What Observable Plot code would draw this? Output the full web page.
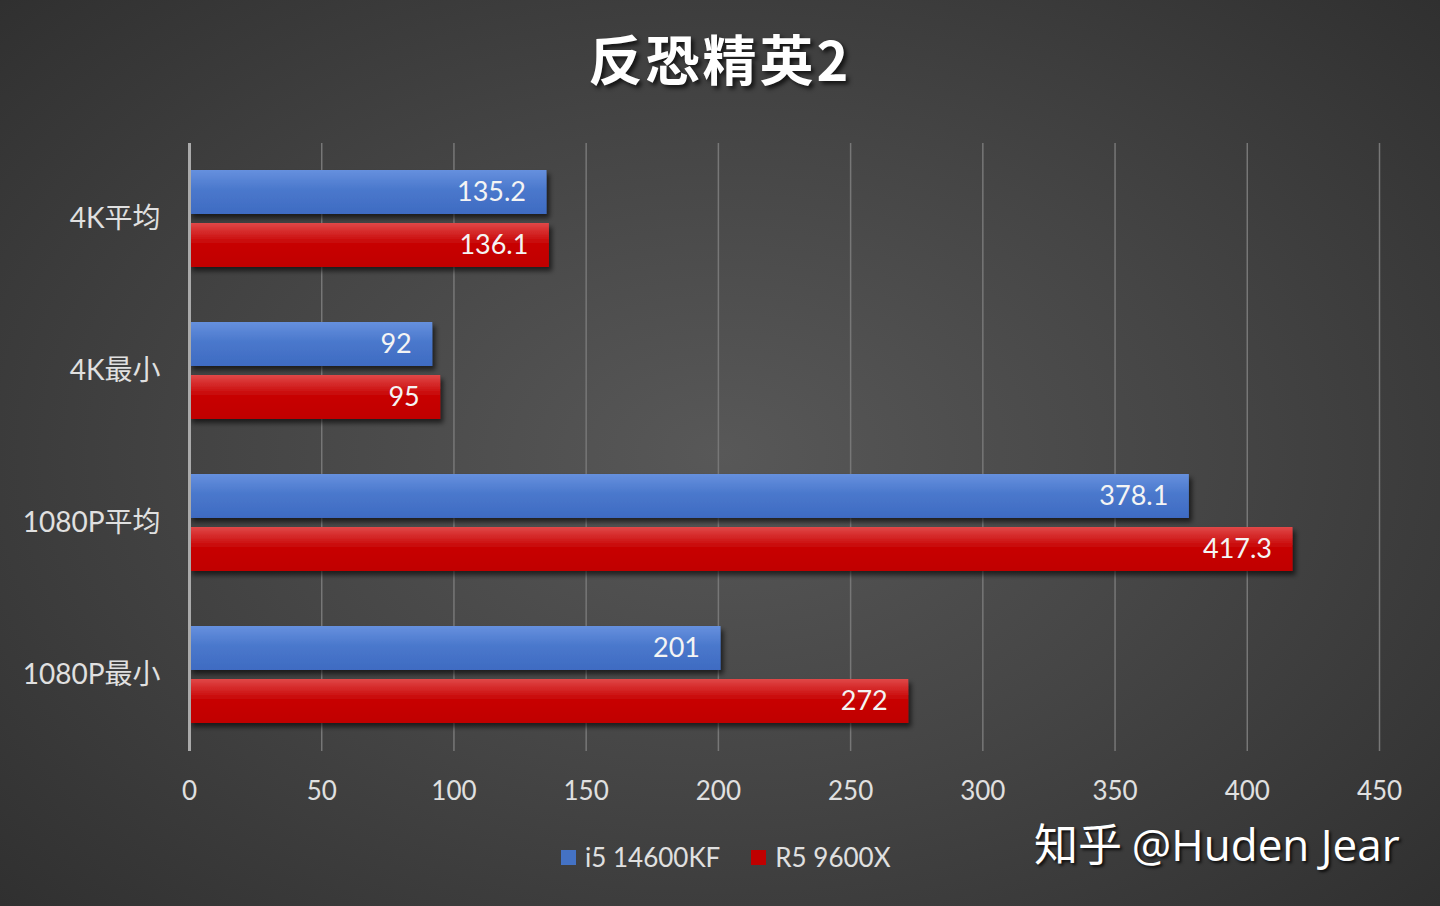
<!DOCTYPE html>
<html><head><meta charset="utf-8">
<script src="https://cdn.jsdelivr.net/npm/d3@7"></script>
<script src="https://cdn.jsdelivr.net/npm/@observablehq/plot@0.6"></script>
<style>
html,body{margin:0;padding:0;width:1440px;height:906px;overflow:hidden;}
body{background:radial-gradient(ellipse 75% 80% at 50% 50%, #585858 0%, #454545 45%, #2c2c2c 100%);font-family:Lato,"Noto Sans CJK SC",sans-serif;position:relative;}
#title{position:absolute;left:0;width:1440px;top:18px;text-align:center;font-size:54px;font-weight:bold;color:#fff;font-family:"Noto Sans CJK SC",sans-serif;text-shadow:3px 3px 4px rgba(0,0,0,0.7);letter-spacing:3px;}
#chart{position:absolute;left:0;top:0;}
#legend{position:absolute;top:841px;left:561px;font-size:26px;color:#e0e0e0;display:flex;align-items:center;white-space:nowrap;}
#legend .sw{display:inline-block;width:15px;height:15px;margin-right:9px;}
#legend .item{display:flex;align-items:center;margin-right:31px;}
#wm{position:absolute;left:1034px;top:810px;font-size:44px;color:#fff;font-family:"Noto Sans CJK SC",sans-serif;text-shadow:2px 2px 3px rgba(0,0,0,0.8);white-space:nowrap;}
#wm .en{font-family:"Open Sans","Noto Sans",sans-serif;}
</style></head>
<body>
<div id="title">反恐精英2</div>
<div id="chart"></div>
<div id="legend"></div>
<div id="wm">知乎 <span class="en">@Huden Jear</span></div>
<script>
const categories = ["4K平均", "4K最小", "1080P平均", "1080P最小"];
const seriesNames = ["i5 14600KF", "R5 9600X"];
const i5Values = [135.2, 92, 378.1, 201];
const r5Values = [136.1, 95, 417.3, 272];
const xTicks = [0, 50, 100, 150, 200, 250, 300, 350, 400, 450];
const seriesColors = ["#4472c4", "#c00000"];
const seriesFills = ["url(#gBlue)", "url(#gRed)"];

const data = [];
categories.forEach((c, i) => {
  data.push({cat: c, series: seriesNames[0], value: i5Values[i]});
  data.push({cat: c, series: seriesNames[1], value: r5Values[i]});
});

const defs = () => {
  const ns = "http://www.w3.org/2000/svg";
  const g = document.createElementNS(ns, "defs");
  g.innerHTML = `
    <linearGradient id="gBlue" x1="0" y1="0" x2="0" y2="1">
      <stop offset="0" stop-color="#6690de"/>
      <stop offset="0.45" stop-color="#4a78cc"/>
      <stop offset="1" stop-color="#3e6bc2"/>
    </linearGradient>
    <linearGradient id="gRed" x1="0" y1="0" x2="0" y2="1">
      <stop offset="0" stop-color="#e04848"/>
      <stop offset="0.45" stop-color="#c80606"/>
      <stop offset="1" stop-color="#c00000"/>
    </linearGradient>
    <filter id="shadow" x="-5%" y="-20%" width="110%" height="160%">
      <feDropShadow dx="3" dy="4" stdDeviation="2.5" flood-color="#000" flood-opacity="0.6"/>
    </filter>`;
  return g;
};

const plot = Plot.plot({
  width: 1440,
  height: 820,
  marginLeft: 189,
  marginRight: 61,
  marginTop: 141,
  marginBottom: 68,
  style: {background: "transparent", color: "#e0e0e0", fontFamily: "Lato, 'Noto Sans CJK SC', sans-serif", overflow: "visible"},
  x: {domain: [0, 450], ticks: xTicks, label: null},
  y: {domain: seriesNames, axis: null, paddingInner: 0.167, paddingOuter: 0.5},
  fy: {domain: categories, padding: 0, label: null, axis: null},
  marks: [
    defs,
    Plot.gridX(xTicks.filter(d => d > 0), {stroke: "#777", strokeOpacity: 1, strokeWidth: 1.5}),
    Plot.barX(data, {fy: "cat", y: "series", x: "value", fill: d => seriesFills[seriesNames.indexOf(d.series)]}),
    Plot.text(data, {fy: "cat", y: "series", x: "value", text: d => String(d.value), textAnchor: "end", dx: -21, fill: "#f4f4f4", fontSize: 27}),
    Plot.ruleX([0], {stroke: "#aaa", strokeWidth: 3}),
    Plot.axisX({ticks: xTicks, tickSize: 0, tickPadding: 30, fontSize: 26, fill: "#e0e0e0", label: null}),
    Plot.axisFy({anchor: "left", tickSize: 0, tickPadding: 29, fontSize: 28, fill: "#e0e0e0", label: null})
  ]
});
d3.select(plot).selectAll("g[aria-label='bar'] rect").attr("filter", "url(#shadow)");
document.getElementById("chart").appendChild(plot);

const leg = document.getElementById("legend");
seriesNames.forEach((s, i) => {
  const it = document.createElement("div");
  it.className = "item";
  const sw = document.createElement("span");
  sw.className = "sw";
  sw.style.background = seriesColors[i];
  it.appendChild(sw);
  const t = document.createElement("span");
  t.textContent = s;
  it.appendChild(t);
  leg.appendChild(it);
});
</script>
</body></html>
